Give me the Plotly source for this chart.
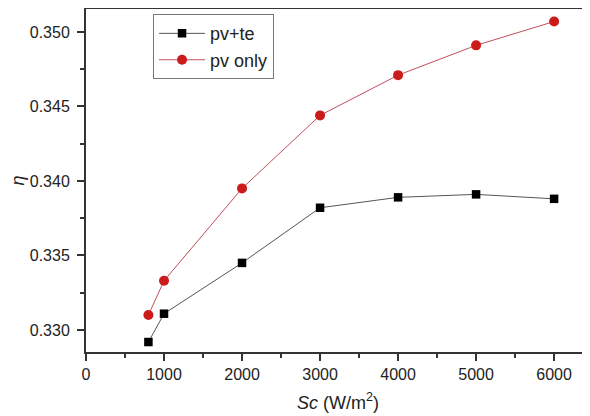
import plotly.graph_objects as go

sc = [800, 1000, 2000, 3000, 4000, 5000, 6000]
pv_te = [0.32919, 0.33109, 0.3345, 0.3382, 0.3389, 0.3391, 0.3388]
pv_only = [0.3310, 0.3333, 0.3395, 0.3444, 0.3471, 0.3491, 0.3507]

fig = go.Figure()
fig.add_trace(go.Scatter(x=sc, y=pv_te, mode="lines+markers", name="pv+te",
                         line=dict(color="#555555", width=1),
                         marker=dict(symbol="square", size=8.5, color="black")))
fig.add_trace(go.Scatter(x=sc, y=pv_only, mode="lines+markers", name="pv only",
                         line=dict(color="#c0505a", width=1),
                         marker=dict(symbol="circle", size=10, color="#cc1b1b")))

font = dict(family="Liberation Sans, Arial, sans-serif", size=16, color="#222222")
fig.update_layout(
    width=582, height=408,
    margin=dict(l=78, r=0, t=1, b=64, autoexpand=False),
    paper_bgcolor="white", plot_bgcolor="white",
    font=font,
    showlegend=True,
    legend=dict(x=0.133, y=0.985, xanchor="left", yanchor="top",
                bordercolor="#777777", borderwidth=1, bgcolor="white",
                font=dict(size=18, color="#222222"), tracegroupgap=0,
                itemwidth=46),
    xaxis=dict(range=[0, 6460], tickvals=[0, 1000, 2000, 3000, 4000, 5000, 6000],
               ticks="outside", ticklen=7, tickwidth=1.5, tickcolor="#333333",
               showline=True, linecolor="#333333", linewidth=2, mirror=True,
               showgrid=False, zeroline=False, automargin=False,
               minor=dict(ticks="outside", dtick=500, tick0=0, ticklen=4, tickcolor="#333333", tickwidth=1.5, showgrid=False),
               title=dict(text="<i>Sc</i> (W/m<sup>2</sup>)", font=dict(size=18), standoff=14)),
    yaxis=dict(range=[0.32852, 0.35154], tickvals=[0.330, 0.335, 0.340, 0.345, 0.350],
               tickformat=".3f",
               ticks="outside", ticklen=7, tickwidth=1.5, tickcolor="#333333",
               showline=True, linecolor="#333333", linewidth=2, mirror=False,
               showgrid=False, zeroline=False, automargin=False,
               ticklabelstandoff=4,
               minor=dict(ticks="outside", dtick=0.0025, tick0=0.330, ticklen=4, tickcolor="#333333", tickwidth=1.5, showgrid=False),
               title=dict(text="<i>η</i>", font=dict(size=18), standoff=14)),
)
fig.write_html("out.html")
